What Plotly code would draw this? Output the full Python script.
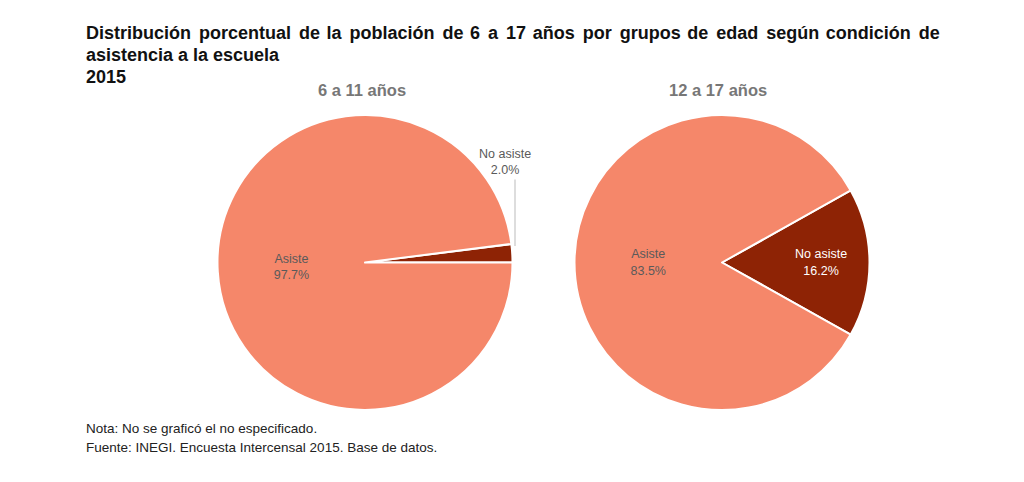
import plotly.graph_objects as go

labels = ["No asiste", "Asiste"]
vals_6_11 = [2.0, 97.7]
vals_12_17 = [16.2, 83.5]
groups = ["6 a 11 años", "12 a 17 años"]
colors = ["#8E2305", "#F5876A"]

W, H = 1024, 482
OFF = 8  # page body margin
fig = go.Figure()

def px(x):
    return (x - OFF) / W

def py(y):
    return 1 - (y - OFF) / H

def span(vals):
    return vals[0] / sum(vals) * 360

FONT = "Liberation Sans, Arial, sans-serif"

# left pie: small slice sits just above the 3 o'clock line
fig.add_trace(go.Pie(
    labels=labels, values=vals_6_11, sort=False, direction="counterclockwise",
    rotation=90 - span(vals_6_11),
    domain=dict(x=[px(217), px(513)], y=[py(410), py(115)]),
    marker=dict(colors=colors, line=dict(color="white", width=2)),
    texttemplate=["", "%{label}<br>%{value:.1f}%"], textposition="inside",
    insidetextorientation="horizontal",
    textfont=dict(family=FONT, size=12.5, color=["#ffffff", "#5a5a5a"]),
    showlegend=False, hoverinfo="label+value",
))
# right pie: small slice centred on the 3 o'clock line
fig.add_trace(go.Pie(
    labels=labels, values=vals_12_17, sort=False, direction="counterclockwise",
    rotation=90 - span(vals_12_17) / 2,
    domain=dict(x=[px(574), px(870)], y=[py(410), py(115)]),
    marker=dict(colors=colors, line=dict(color="white", width=2)),
    texttemplate="%{label}<br>%{value:.1f}%", textposition="inside",
    insidetextorientation="horizontal",
    textfont=dict(family=FONT, size=12.5, color=["#ffffff", "#5a5a5a"]),
    showlegend=False, hoverinfo="label+value",
))

annotations = []
title_lines = [
    "Distribución porcentual de la población de 6 a 17 años por grupos de edad según condición de",
    "asistencia a la escuela",
    "2015",
]
# first line is justified in the reference: widen its word gaps
words = title_lines[0].split(" ")
line1 = words[0]
for i, w in enumerate(words[1:]):
    line1 += (" \u200a\u200a" if i % 3 != 2 else " \u200a") + w
for t, yy in zip([line1] + title_lines[1:], [32.5, 55.5, 77]):
    annotations.append(dict(
        text="<b>" + t + "</b>", x=px(84), y=py(yy), xref="paper", yref="paper",
        xanchor="left", yanchor="middle", showarrow=False,
        font=dict(family=FONT, size=18, color="#111111"),
    ))
for g, cx in zip(groups, [362, 718]):
    annotations.append(dict(
        text="<b>" + g + "</b>", x=px(cx), y=py(90), xref="paper", yref="paper",
        xanchor="center", yanchor="middle", showarrow=False,
        font=dict(family=FONT, size=16.5, color="#777777"),
    ))
# outside label for the small slice
annotations.append(dict(
    text=labels[0] + "<br>" + f"{vals_6_11[0]:.1f}%", x=px(505), y=py(162),
    xref="paper", yref="paper", xanchor="center", yanchor="middle", showarrow=False,
    font=dict(family=FONT, size=12.5, color="#5a5a5a"),
))
annotations.append(dict(
    x=px(515), y=py(246), xref="paper", yref="paper", text="",
    showarrow=True, arrowhead=0, arrowwidth=1, arrowcolor="#bbbbbb",
    ax=0, ay=-68, axref="pixel", ayref="pixel",
))
notes = ["Nota: No se graficó el no especificado.",
         "Fuente: INEGI. Encuesta Intercensal 2015. Base de datos."]
for t, yy in zip(notes, [428, 447]):
    annotations.append(dict(
        text=t, x=px(84), y=py(yy), xref="paper", yref="paper",
        xanchor="left", yanchor="middle", showarrow=False,
        font=dict(family=FONT, size=13.5, color="#222222"),
    ))

fig.update_layout(
    width=W, height=H, margin=dict(l=0, r=0, t=0, b=0),
    paper_bgcolor="white", plot_bgcolor="white", annotations=annotations,
)
fig.write_html("out.html")
